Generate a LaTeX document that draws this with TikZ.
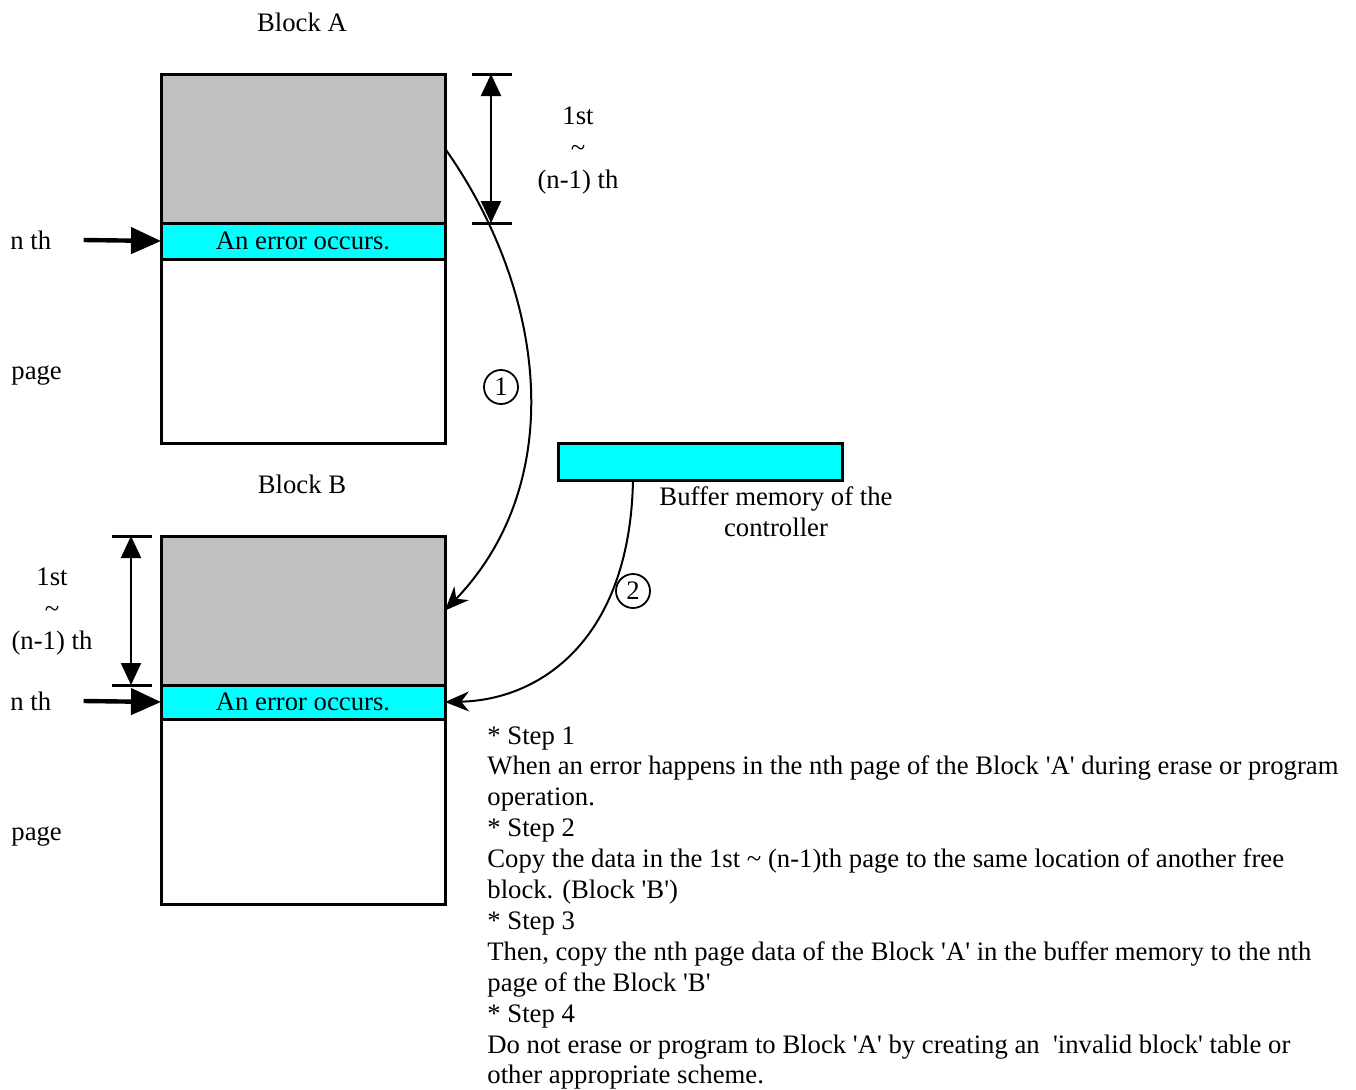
\documentclass[tikz,border=0pt]{standalone}
\usepackage{fontspec}
\setmainfont{Liberation Serif}
\usetikzlibrary{positioning,arrows.meta}
\definecolor{pagegray}{HTML}{C0C0C0}
\definecolor{errcyan}{HTML}{00FFFF}
\newcommand{\sq}{\textquotesingle}
\tikzset{
  pagebox/.style={draw, line width=1.5pt, minimum width=142pt, inner sep=0pt, outer sep=0pt},
  lbl/.style={inner sep=0pt},
  tick/.style={line width=1.5pt},
  dimarrow/.style={line width=1.1pt, {Triangle[length=11pt,width=10pt]}-{Triangle[length=11pt,width=10pt]}},
  ptarrow/.style={line width=2.2pt, -{Triangle[length=15pt,width=13pt]}},
  copyarrow/.style={line width=1pt, -{Stealth[length=12pt,width=10pt]}},
  stepnum/.style={draw, circle, line width=0.9pt, minimum size=17pt, inner sep=0pt},
}

\begin{document}
\begin{tikzpicture}[x=0.5pt,y=-0.5pt,font=\fontsize{13.35}{15.5}\selectfont]
   \useasboundingbox (0,0) rectangle (1356,1089);

   % ブロックA
   \node [lbl] (blkA) at (302,22) {Block A};
   \node [pagebox, fill=pagegray, minimum height=74.5pt] (Agray) at (303,148.5) {};
   \node [pagebox, fill=errcyan, minimum height=18pt, below=0pt of Agray] (Aerr) {An error occurs.};
   \node [pagebox, minimum height=92pt, below=0pt of Aerr] (Afree) {};
   \node [lbl, anchor=west] (nthA) at (10,240) {n th};
   \node [lbl, anchor=west] (pageA) at (11,376) {page};
   \draw [ptarrow] ([xshift=16pt]nthA.east) -- (Aerr.west);

   % 寸法線
   \draw [tick] ([xshift=13.5pt]Agray.north east) -- ++(40,0)
                ([xshift=13.5pt]Agray.south east) -- ++(40,0);
   \draw [dimarrow] ([xshift=23pt]Agray.north east) -- ([xshift=23pt]Agray.south east);
   \node [lbl, align=center, font=\fontsize{13.35}{16}\selectfont] (rngA) at (578,151) {1st\\ \textasciitilde\\ (n-1) th};

   % バッファ
   \node [pagebox, fill=errcyan, minimum height=18.5pt] (buf) at (700,461.5) {};
   \node [lbl, align=center] (bufl) at (776,512) {Buffer memory of the\\ controller};

   % ブロックB
   \node [lbl] (blkB) at (302,484) {Block B};
   \node [pagebox, fill=pagegray, minimum height=74.5pt] (Bgray) at (303,610.5) {};
   \node [pagebox, fill=errcyan, minimum height=17pt, below=0pt of Bgray] (Berr) {An error occurs.};
   \node [pagebox, minimum height=92.5pt, below=0pt of Berr] (Bfree) {};
   \node [lbl, anchor=west] (nthB) at (10,701) {n th};
   \node [lbl, anchor=west] (pageB) at (11,837) {page};
   \draw [ptarrow] ([xshift=16pt]nthB.east) -- (Berr.west);

   \draw [tick] ([xshift=-24.5pt]Bgray.north west) -- ++(40,0)
                ([xshift=-24.5pt]Bgray.south west) -- ++(40,0);
   \draw [dimarrow] ([xshift=-15pt]Bgray.north west) -- ([xshift=-15pt]Bgray.south west);
   \node [lbl, align=center, font=\fontsize{13.35}{16}\selectfont] (rngB) at (52,612) {1st\\ \textasciitilde\\ (n-1) th};

   % コピーの矢印
   \node [stepnum] (c1) at (501,387) {1};
   \node [stepnum] (c2) at (633,591) {2};
   \draw [copyarrow] (Agray.east) .. controls (545,290) and (570,480) .. (Bgray.east);
   \draw [copyarrow] (buf.south -| c2) .. controls (630,640) and (540,700) .. (Berr.east);

   % 手順
   \node [lbl, anchor=north west, align=left, font=\fontsize{13.35}{15.45}\selectfont] (steps) at (487,726) {%
      * Step 1\\
      When an error happens in the nth page of the Block \sq A\sq{} during erase or program\\
      operation.\\
      * Step 2\\
      Copy the data in the 1st \textasciitilde{} (n-1)th page to the same location of another free\\
      block. (Block \sq B\sq)\\
      * Step 3\\
      Then, copy the nth page data of the Block \sq A\sq{} in the buffer memory to the nth\\
      page of the Block \sq B\sq\\
      * Step 4\\
      Do not erase or program to Block \sq A\sq{} by creating an\ \ \sq invalid block\sq{} table or\\
      other appropriate scheme.};

\end{tikzpicture}
\end{document}
